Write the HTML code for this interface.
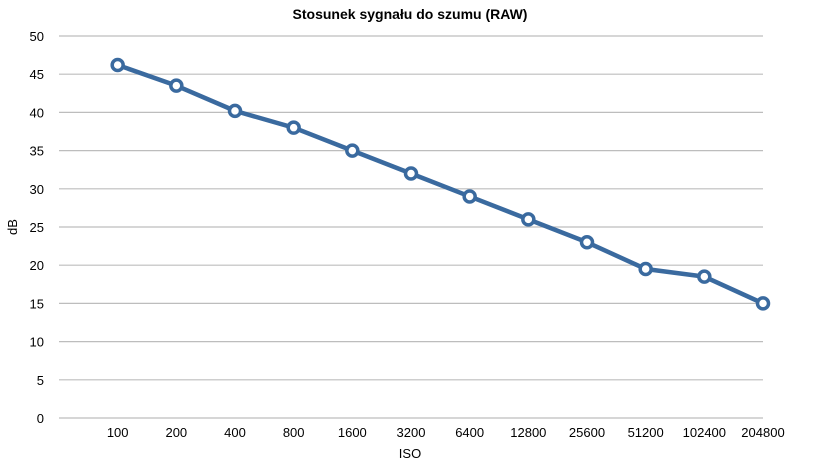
<!DOCTYPE html>
<html><head><meta charset="utf-8"><style>
body{margin:0;background:#fff;}
svg{display:block;font-family:"Liberation Sans",Arial,sans-serif;}
</style></head><body>
<svg id="chart" width="817" height="467" viewBox="0 0 817 467">
<text x="410" y="19" text-anchor="middle" font-size="14" font-weight="bold" fill="#000">Stosunek sygnału do szumu (RAW)</text>
<g id="grid"></g><g id="xt"></g><g id="series"></g>
<text x="410" y="458" text-anchor="middle" font-size="13" fill="#000">ISO</text>
<text transform="translate(17,227) rotate(-90)" text-anchor="middle" font-size="13" fill="#000">dB</text>
</svg>
<script>
const categories=["100","200","400","800","1600","3200","6400","12800","25600","51200","102400","204800"];
const values=[46.2,43.5,40.2,38,35,32,29,26,23,19.5,18.5,15];
const yTicks=[0,5,10,15,20,25,30,35,40,45,50];
const NS="http://www.w3.org/2000/svg";
const L=59,R=763,T=36,B=418,yMax=50;
const step=(R-L)/categories.length;
const x=i=>L+(i+1)*step;
const y=v=>B-(v/yMax)*(B-T);
function mk(t,a,p){const e=document.createElementNS(NS,t);for(const k in a)e.setAttribute(k,a[k]);p.appendChild(e);return e;}
const g=document.getElementById('grid');
yTicks.forEach(v=>{
 const l=mk('line',{x1:L,x2:R,y1:y(v),y2:y(v),stroke:'#bdbdbd','stroke-width':1.2},g);
 
 
 const t=mk('text',{x:44,y:y(v)+5,'text-anchor':'end','font-size':13,fill:'#000'},g);
 t.textContent=v;
 
 
});
const xt=document.getElementById('xt');
categories.forEach((c,i)=>{
 const t=mk('text',{x:x(i),y:437,'text-anchor':'middle','font-size':13,fill:'#000'},xt);
 t.textContent=c;
 
 
});
const s=document.getElementById('series');
const pl=mk('polyline',{points:values.map((v,i)=>x(i)+','+y(v)).join(' '),fill:'none',stroke:'#3a6a9f','stroke-width':4.5,'stroke-linejoin':'round'},s);


values.forEach((v,i)=>{
 const c=mk('circle',{cx:x(i),cy:y(v),r:5.5,fill:'#fff',stroke:'#3a6a9f','stroke-width':3.5},s);
 
 
});
</script>
</body></html>
